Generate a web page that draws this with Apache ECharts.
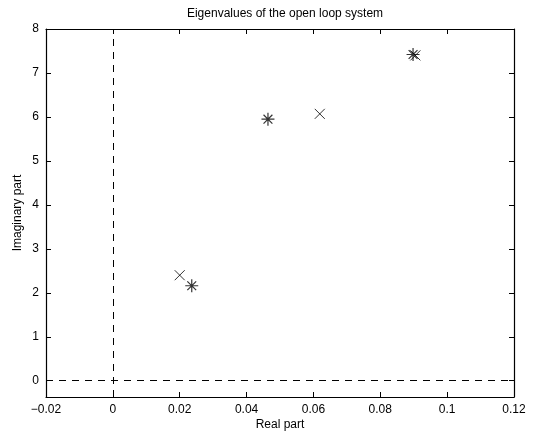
<!DOCTYPE html>
<html>
<head>
<meta charset="utf-8">
<script src="https://cdn.jsdelivr.net/npm/echarts@6/dist/echarts.min.js"></script>
<style>
	html, body { margin: 0; padding: 0; background: #fff; }
	#chart { width: 543px; height: 436px; }
</style>
</head>
<body>
<div id="chart"></div>
<script>
// eigenvalues (real part, imaginary part)
var crossReal = [0.0200, 0.0619, 0.0905];
var crossImag = [2.40, 6.07, 7.40];
var starReal = [0.0236, 0.0464, 0.0898];
var starImag = [2.16, 5.95, 7.42];

var xTicks = [-0.02, 0, 0.02, 0.04, 0.06, 0.08, 0.1, 0.12];
var yTicks = [0, 1, 2, 3, 4, 5, 6, 7, 8];

var FONT = "Liberation Sans";
var CROSS = "path://M0,0L10,10M10,0L0,10";
var STAR = "path://M5,0L5,10M0,5L10,5M1.6,1.6L8.4,8.4M8.4,1.6L1.6,8.4";

function pairs(xs, ys){
	return xs.map(function(x, i){ return [x, ys[i]]; });
}

function boxAxis(pos, isX, showLabel, name){
	var ax = {
		type: "value",
		position: pos,
		min: isX ? -0.02 : -0.37,
		max: isX ? 0.12 : 8,
		splitLine: { show: false },
		axisLine: { onZero: false, lineStyle: { color: "#000", width: 1.2 } },
		axisTick: { inside: true, length: 5, customValues: isX ? xTicks : yTicks,
			lineStyle: { color: "#000" } },
		axisLabel: { show: showLabel, customValues: isX ? xTicks : yTicks,
			color: "#000", fontFamily: FONT, fontSize: 12, margin: 7,
			formatter: function(v){ return String(v).replace("-", "\u2212"); } }
	};
	if (name) {
		ax.name = name;
		ax.nameLocation = "middle";
		ax.nameMoveOverlap = false;
		ax.nameTextStyle = { color: "#000", fontFamily: FONT, fontSize: 12 };
		ax.nameGap = isX ? 22 : 22;
	}
	return ax;
}

var chart = echarts.init(document.getElementById("chart"), null, { renderer: "canvas" });
chart.setOption({
	animation: false,
	backgroundColor: "#fff",
	title: {
		text: "Eigenvalues of the open loop system",
		left: 280, top: 3, textAlign: "center",
		textStyle: { color: "#000", fontFamily: FONT, fontSize: 12, fontWeight: "normal" }
	},
	grid: { left: 46, right: 29, top: 29, bottom: 39, containLabel: false },
	xAxis: [boxAxis("bottom", true, true, "Real part"), boxAxis("top", true, false)],
	yAxis: [boxAxis("left", false, true, "Imaginary part"), boxAxis("right", false, false)],
	series: [{
		type: "scatter",
		data: pairs(crossReal, crossImag),
		symbol: CROSS,
		symbolSize: 10,
		itemStyle: { color: "none", borderColor: "#000", borderWidth: 1 },
		markLine: {
			silent: true,
			symbol: "none",
			label: { show: false },
			lineStyle: { color: "#000", type: [7, 6], width: 1 },
			data: [{ xAxis: 0 }, { yAxis: 0 }]
		}
	}, {
		type: "scatter",
		data: pairs(starReal, starImag),
		symbol: STAR,
		symbolSize: 13,
		itemStyle: { color: "none", borderColor: "#000", borderWidth: 1.2 }
	}]
});
</script>
</body>
</html>
